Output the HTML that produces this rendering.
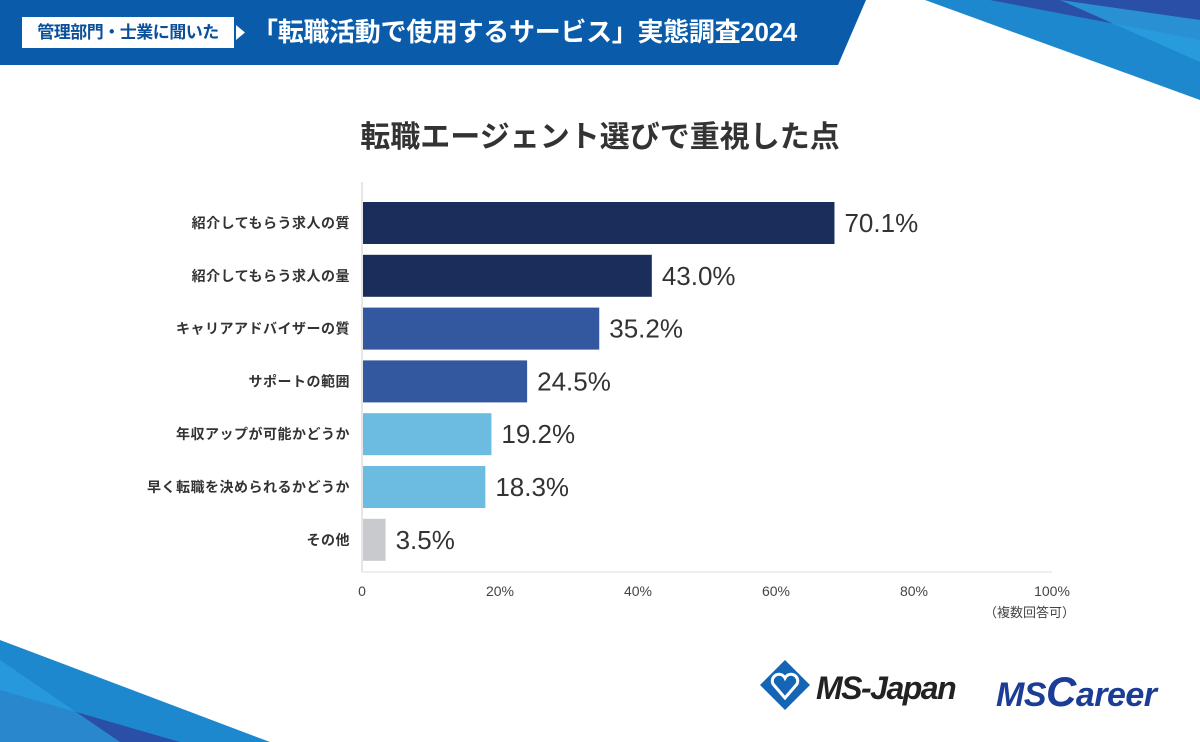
<!DOCTYPE html>
<html><head><meta charset="utf-8"><style>
body{margin:0;width:1200px;height:742px;overflow:hidden;background:#fff;font-family:"Liberation Sans","Noto Sans CJK JP",sans-serif;position:relative}
.abs{position:absolute}
</style></head><body>
<svg class="abs" style="left:0;top:0" width="1200" height="742">
<polygon points="0,0 866,0 838,65 0,65" fill="#0a5cab"/>
<polygon points="925,0 1200,0 1200,100" fill="#1e88cf"/>
<polygon points="990,0 1200,0 1200,40" fill="#2a4fa6"/>
<polygon points="1060,0 1200,20 1200,62" fill="#2aa0e0" opacity="0.8"/>
<polygon points="0,640 270,742 0,742" fill="#1e88cf"/>
<polygon points="0,690 180,742 0,742" fill="#2a4fa6"/>
<polygon points="0,660 120,742 0,742" fill="#2aa0e0" opacity="0.7"/>
<rect x="22" y="17" width="212" height="31" fill="#fff"/>
<polygon points="236,25 245,32.5 236,40" fill="#fff"/>
<g transform="translate(760,660)">
<polygon points="25,0 50,25 25,50 0,25" fill="#1565b6"/>
<path d="M25,38 L13,24 A6,6 0 0 1 25,18 A6,6 0 0 1 37,24 Z" fill="none" stroke="#fff" stroke-width="3"/>
</g>
</svg>
<div class="abs" style="left:22px;top:17px;width:212px;height:31px;line-height:31px;text-align:center;font-weight:bold;font-size:17px;color:#0a4f9a;letter-spacing:-0.5px">管理部門・士業に聞いた</div>
<div class="abs" style="left:252px;top:14px;font-size:26px;font-weight:bold;color:#fff;line-height:36px;letter-spacing:-0.3px">「転職活動で使用するサービス」実態調査2024</div>
<div class="abs" style="left:0;width:1200px;top:112px;text-align:center;font-size:30px;font-weight:bold;color:#333">転職エージェント選びで重視した点</div>
<div class="abs" style="left:816px;top:670px;font-size:32px;font-weight:bold;font-style:italic;color:#222;letter-spacing:-1.5px">MS-Japan</div>
<div class="abs" style="left:996px;top:668px;font-size:34px;font-weight:bold;font-style:italic;color:#1b3d96;letter-spacing:-0.5px">MS<span style="font-size:42px">C</span>areer</div>
<svg id="chart" class="abs" style="left:0;top:0" width="1200" height="742"></svg>
<script>
const categories=["紹介してもらう求人の質","紹介してもらう求人の量","キャリアアドバイザーの質","サポートの範囲","年収アップが可能かどうか","早く転職を決められるかどうか","その他"];
const values=[70.1,43.0,35.2,24.5,19.2,18.3,3.5];
const tickValues=[0,20,40,60,80,100];
const tickLabels=["0","20%","40%","60%","80%","100%"];
const colors=["#1b2d5b","#1b2d5b","#3358a0","#3358a0","#6bbce0","#6bbce0","#c9cace"];
const NS="http://www.w3.org/2000/svg";
const svg=document.getElementById('chart');
const x0=362;
function xBar(v){return x0+v*6.74;}
function xTick(v){return x0+v*6.9;}
function yRow(i){return 223+i*52.8;}
function mk(t,a){const e=document.createElementNS(NS,t);for(const k in a)e.setAttribute(k,a[k]);svg.appendChild(e);return e;}
let ax=mk('line',{x1:x0,y1:182,x2:x0,y2:572,stroke:'#ccc','stroke-width':1});


let bx=mk('line',{x1:x0,y1:572,x2:1052,y2:572,stroke:'#ddd','stroke-width':1});


tickValues.forEach((v,i)=>{
 const t=mk('text',{x:xTick(v),y:596,'text-anchor':'middle','font-size':14,fill:'#444'});
 t.textContent=tickLabels[i];
 
 
});
const note=mk('text',{x:1075,y:617,'text-anchor':'end','font-size':13,fill:'#444'});
note.textContent='（複数回答可）';


categories.forEach((c,i)=>{
 const y=yRow(i);
 const r=mk('rect',{x:x0+1,y:y-21,width:xBar(values[i])-x0-1,height:42,fill:colors[i]});
 
 
 const l=mk('text',{x:350,y:y+5,'text-anchor':'end','font-size':14,'font-weight':'bold',fill:'#333','letter-spacing':'0.5'});
 l.textContent=c;
 
 
 const v=mk('text',{x:xBar(values[i])+10,y:y+9,'font-size':26,fill:'#333'});
 v.textContent=values[i].toFixed(1)+'%';
 
 
});
</script>
</body></html>
